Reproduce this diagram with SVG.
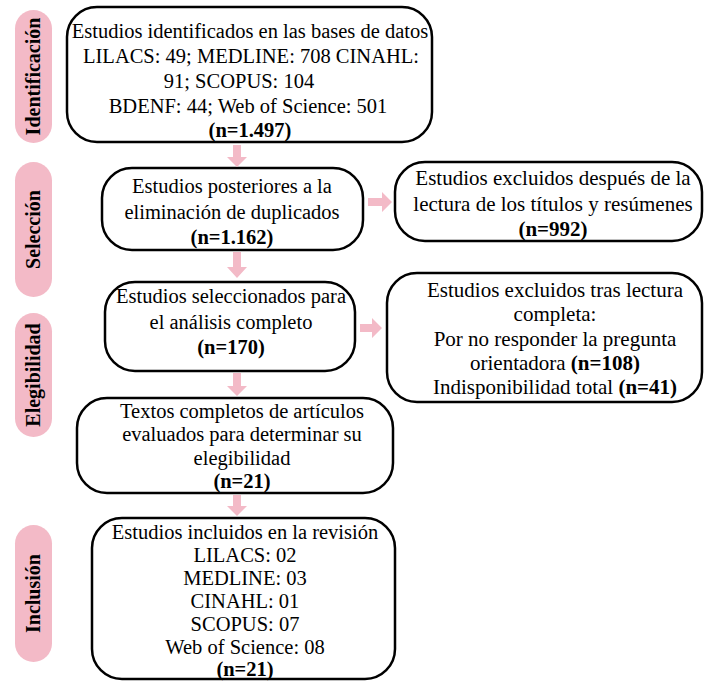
<svg xmlns="http://www.w3.org/2000/svg" width="704" height="681" viewBox="0 0 704 681">
<style>
.box{fill:#fff;stroke:#000;stroke-width:2.5}
.pill{fill:#F3BAC7}
.arr{fill:#F3BAC7}
text{font-family:"Liberation Serif","Times New Roman",serif;font-size:20.5px;fill:#000;text-anchor:middle}
.r{font-size:21px}
.b{font-weight:bold}
.lab{font-weight:bold;font-size:20px}
</style>
<g id="stage-identificacion"><rect class="pill" x="15" y="10" width="37" height="133" rx="18.5"/><text class="lab" transform="translate(40,76.5) rotate(-90)">Identificación</text></g>
<g id="stage-seleccion"><rect class="pill" x="15" y="162" width="37" height="135" rx="18.5"/><text class="lab" transform="translate(40,229.5) rotate(-90)">Selección</text></g>
<g id="stage-elegibilidad"><rect class="pill" x="15" y="313" width="37" height="124" rx="18.5"/><text class="lab" transform="translate(40,375) rotate(-90)">Elegibilidad</text></g>
<g id="stage-inclusion"><rect class="pill" x="15" y="525" width="37" height="137" rx="18.5"/><text class="lab" transform="translate(40,593.5) rotate(-90)">Inclusión</text></g>

<g id="n1"><rect class="box" x="67" y="7" width="365" height="135" rx="30"/>
<text x="250" y="38">Estudios identificados en las bases de datos</text>
<text x="251" y="63">LILACS: 49; MEDLINE: 708 CINAHL:</text>
<text x="239" y="88">91; SCOPUS: 104</text>
<text x="248" y="113">BDENF: 44; Web of Science: 501</text>
<text class="b" x="250" y="137">(n=1.497)</text></g>

<g id="n2"><rect class="box" x="102" y="168" width="261" height="82" rx="30"/>
<text x="232" y="193">Estudios posteriores a la</text>
<text x="232" y="219">eliminación de duplicados</text>
<text class="b" x="232" y="244">(n=1.162)</text></g>

<g id="n3"><rect class="box" x="395" y="162" width="307" height="79" rx="30"/>
<text class="r" x="553" y="185">Estudios excluidos después de la</text>
<text class="r" x="553" y="211">lectura de los títulos y resúmenes</text>
<text class="r b" x="553" y="236">(n=992)</text></g>

<g id="n4"><rect class="box" x="105" y="282" width="250" height="89" rx="30"/>
<text x="231" y="303">Estudios seleccionados para</text>
<text x="231" y="329">el análisis completo</text>
<text class="b" x="231" y="354">(n=170)</text></g>

<g id="n5"><rect class="box" x="387" y="273" width="315" height="129" rx="30"/>
<text class="r" x="555" y="297">Estudios excluidos tras lectura</text>
<text class="r" x="555" y="321">completa:</text>
<text class="r" x="555" y="346">Por no responder la pregunta</text>
<text class="r" x="555" y="370">orientadora <tspan class="b">(n=108)</tspan></text>
<text class="r" x="555" y="394">Indisponibilidad total <tspan class="b">(n=41)</tspan></text></g>

<g id="n6"><rect class="box" x="77" y="398" width="316" height="95" rx="30"/>
<text x="242" y="418">Textos completos de artículos</text>
<text x="242" y="441">evaluados para determinar su</text>
<text x="242" y="465">elegibilidad</text>
<text class="b" x="242" y="488">(n=21)</text></g>

<g id="n7"><rect class="box" x="92" y="518" width="303" height="161" rx="30"/>
<text x="245" y="539">Estudios incluidos en la revisión</text>
<text x="245" y="562">LILACS: 02</text>
<text x="245" y="585">MEDLINE: 03</text>
<text x="245" y="608">CINAHL: 01</text>
<text x="245" y="631">SCOPUS: 07</text>
<text x="245" y="654">Web of Science: 08</text>
<text class="b" x="245" y="676">(n=21)</text></g>

<g id="connectors">
<path class="arr" d="M233 145H241V157H247L237 167L227 157H233Z"/>
<path class="arr" d="M233 252H241V267H247L237 278L227 267H233Z"/>
<path class="arr" d="M233 373H241V386H247L237 396L227 386H233Z"/>
<path class="arr" d="M233 495H241V506H247L237 516L227 506H233Z"/>
<path class="arr" d="M368 198H382V192L392 202L382 212V206H368Z"/>
<path class="arr" d="M360 324H372V318L382 328L372 338V332H360Z"/>
</g>
</svg>
